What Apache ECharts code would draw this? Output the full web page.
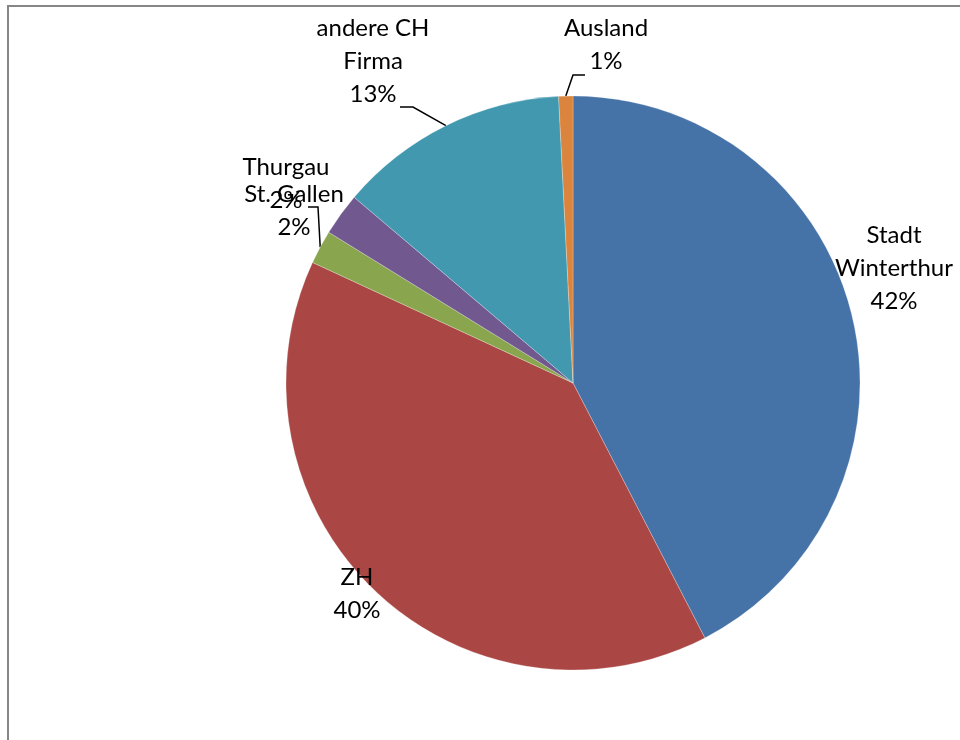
<!DOCTYPE html>
<html>
<head>
<meta charset="utf-8">
<script src="https://cdn.jsdelivr.net/npm/echarts@6/dist/echarts.min.js"></script>
<style>
html,body{margin:0;padding:0;background:#fff;}
#chart{position:absolute;left:0;top:0;width:960px;height:740px;}
#frame{position:absolute;left:7px;top:5px;width:1000px;height:800px;border-left:2px solid #868686;border-top:2px solid #868686;pointer-events:none;}
</style>
</head>
<body>
<div id="chart"></div>
<div id="frame"></div>
<script>
const categories = ['Stadt Winterthur', 'ZH', 'St. Gallen', 'Thurgau', 'andere CH Firma', 'Ausland'];
const labelNames = ['Stadt\nWinterthur', 'ZH', 'St. Gallen', 'Thurgau', 'andere CH\nFirma', 'Ausland'];
const values = [42.4, 39.5, 1.9, 2.4, 13.0, 0.8];
const colors = ['#4572A7', '#AA4643', '#89A54E', '#71588F', '#4198AF', '#DB843D'];
const labelPos = [[894, 268], [357, 594], [294, 211], [286, 184], [373, 61], [606, 45]];
// leader elbows (label side) for slices that have a leader line
const leaderElbows = [null, null, [[318, 207], [308, 207]], null, [[413, 107], [400, 107]], [[573, 75], [585, 75]]];

const CX = 573, CY = 383, R = 287;
const total = values.reduce((a, b) => a + b, 0);
function edgePoint(i) {
  let before = 0;
  for (let k = 0; k < i; k++) before += values[k];
  const mid = (before + values[i] / 2) / total * 2 * Math.PI;
  return [CX + R * Math.sin(mid), CY - R * Math.cos(mid)];
}

const chart = echarts.init(document.getElementById('chart'));
chart.setOption({
  animation: false,
  series: [{
    type: 'pie',
    center: [CX, CY],
    radius: [0, R],
    startAngle: 90,
    clockwise: true,
    avoidLabelOverlap: false,
    data: categories.map((c, i) => ({
      name: c,
      value: values[i],
      itemStyle: { color: colors[i] },
      labelLine: { show: !!leaderElbows[i] }
    })),
    itemStyle: { borderColor: 'rgba(255,255,255,0.5)', borderWidth: 0.5 },
    label: {
      show: true,
      position: 'outside',
      formatter: p => labelNames[p.dataIndex] + '\n' + Math.round(p.percent) + '%',
      fontFamily: 'Lato',
      fontSize: 24,
      lineHeight: 33,
      color: '#000',
      align: 'center'
    },
    labelLine: { lineStyle: { color: '#000', width: 1.5 }, length: 10, length2: 10 },
    labelLayout: function (params) {
      const i = params.dataIndex;
      const pos = labelPos[i];
      const out = { x: pos[0], y: pos[1], align: 'center', verticalAlign: 'middle' };
      if (leaderElbows[i]) {
        out.labelLinePoints = [edgePoint(i)].concat(leaderElbows[i]);
      }
      return out;
    }
  }]
});
</script>
</body>
</html>
